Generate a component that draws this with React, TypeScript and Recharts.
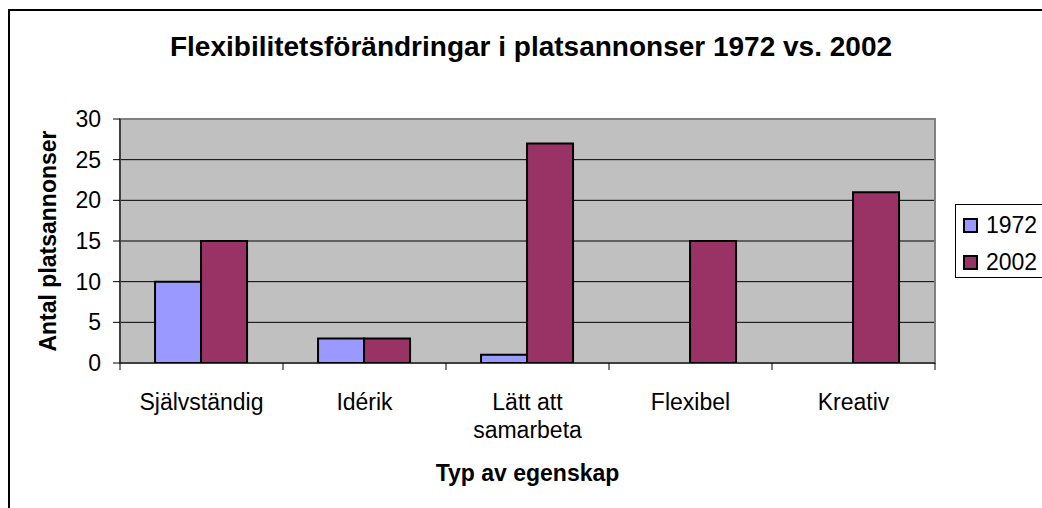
import React from 'react';
import { BarChart, Bar, XAxis, YAxis, CartesianGrid, Legend, ReferenceArea, Label, Text } from 'recharts';

const categories = ['Självständig', 'Idérik', 'Lätt att samarbeta', 'Flexibel', 'Kreativ'];
const values1972 = [10, 3, 1, 0, 0];
const values2002 = [15, 3, 27, 15, 21];
const seriesNames = ['1972', '2002'];
const seriesColors = ['#9999FF', '#993366'];
const yTicks = [0, 5, 10, 15, 20, 25, 30];
const titleText = 'Flexibilitetsförändringar i platsannonser 1972 vs. 2002';
const xTitle = 'Typ av egenskap';
const yTitle = 'Antal platsannonser';

const data = categories.map((c, i) => ({
  name: c,
  [seriesNames[0]]: values1972[i],
  [seriesNames[1]]: values2002[i],
}));

const FONT = '"Liberation Sans", Arial, Helvetica, sans-serif';
const CHART_W = 1100;
const CHART_H = 500;
const MARGIN = { top: 111, right: 173, bottom: 85, left: 0 };
const Y_AXIS_W = 112;
const X_AXIS_H = 60;
const PLOT_W = CHART_W - MARGIN.left - MARGIN.right - Y_AXIS_W;
const BAND = PLOT_W / categories.length;
const TICK = 7;

function XTick(props: any) {
  const { x, y, payload, index } = props;
  const axisY = y - TICK;
  const half = BAND / 2;
  return (
    <g>
      <line x1={x - half} x2={x - half} y1={axisY} y2={axisY + TICK} stroke="#000" strokeWidth={1} />
      {index === categories.length - 1 && (
        <line x1={x + half} x2={x + half} y1={axisY} y2={axisY + TICK} stroke="#000" strokeWidth={1} />
      )}
      <Text
        x={x}
        y={y + 24}
        width={100}
        textAnchor="middle"
        verticalAnchor="start"
        lineHeight={28}
        style={{ fontSize: 23, fontFamily: FONT }}
        fontSize={23}
        fontFamily={FONT}
        fill="#000"
      >
        {payload.value}
      </Text>
    </g>
  );
}

function renderLegend(props: any) {
  const payload = props && props.payload && props.payload.length ? props.payload : null;
  const items = seriesNames.map((n, i) => {
    const p = payload ? payload.find((q: any) => String(q.value) === n) : null;
    return { name: n, color: (p && p.color) || seriesColors[i] };
  });
  return (
    <div
      style={{
        border: '1px solid #000',
        background: '#fff',
        width: 100,
        height: 74,
        boxSizing: 'border-box',
        fontFamily: FONT,
        fontSize: 23,
        paddingTop: 2,
      }}
    >
      {items.map((it) => (
        <div key={it.name} style={{ height: 37, display: 'flex', alignItems: 'center' }}>
          <div
            style={{
              width: 15,
              height: 15,
              boxSizing: 'border-box',
              border: '2px solid #000',
              background: it.color,
              marginLeft: 7,
              marginRight: 8,
            }}
          />
          <span style={{ lineHeight: 1, color: '#000' }}>{it.name}</span>
        </div>
      ))}
    </div>
  );
}

export default function App() {
  return (
    <div
      style={{
        position: 'fixed',
        left: 8,
        top: 8,
        width: 1034,
        height: 500,
        overflow: 'hidden',
        background: '#fff',
      }}
    >
      <div style={{ position: 'relative', width: CHART_W, height: CHART_H }}>
        <div
          style={{
            position: 'absolute',
            left: 0,
            top: 1,
            width: 1200,
            height: 700,
            borderLeft: '2px solid #000',
            borderTop: '2px solid #000',
            boxSizing: 'border-box',
          }}
        />
        <div
          style={{
            position: 'absolute',
            left: 0,
            top: 25,
            width: 1046,
            textAlign: 'center',
            fontFamily: FONT,
            fontWeight: 'bold',
            fontSize: 28,
            lineHeight: '28px',
            color: '#000',
            whiteSpace: 'nowrap',
          }}
        >
          {titleText}
        </div>
        <div style={{ position: 'absolute', left: 0, top: 0 }}>
          <BarChart
            width={CHART_W}
            height={CHART_H}
            data={data}
            margin={MARGIN}
            barCategoryGap="21.5%"
            barGap={0}
          >
            <CartesianGrid
              vertical={false}
              horizontal={true}
              stroke="#000"
              strokeWidth={1}
              fill="#C0C0C0"
              fillOpacity={1}
            />
            <ReferenceArea y1={0} y2={30} fill="none" stroke="#808080" strokeWidth={2} ifOverflow="visible" />
            <XAxis
              dataKey="name"
              height={X_AXIS_H}
              interval={0}
              tickLine={false}
              tickSize={TICK}
              tickMargin={0}
              axisLine={{ stroke: '#000', strokeWidth: 1 }}
              tick={<XTick />}
            >
              <Label
                content={(p: any) => {
                  const vb = p.viewBox || {};
                  return (
                    <text
                      x={vb.x + vb.width / 2}
                      y={vb.y + 118}
                      textAnchor="middle"
                      fontFamily={FONT}
                      fontWeight="bold"
                      fontSize={23}
                      fill="#000"
                    >
                      {xTitle}
                    </text>
                  );
                }}
              />
            </XAxis>
            <YAxis
              width={Y_AXIS_W}
              domain={[0, 30]}
              ticks={yTicks}
              interval={0}
              allowDataOverflow
              tickSize={TICK}
              tickMargin={12}
              axisLine={{ stroke: '#000', strokeWidth: 1 }}
              tickLine={{ stroke: '#000', strokeWidth: 1 }}
              tick={{ fontSize: 23, fill: '#000', fontFamily: FONT }}
            >
              <Label
                content={(p: any) => {
                  const vb = p.viewBox || {};
                  const cx = vb.x + 40;
                  const cy = vb.y + vb.height / 2;
                  return (
                    <text
                      x={cx}
                      y={cy}
                      transform={`rotate(-90, ${cx}, ${cy})`}
                      textAnchor="middle"
                      dominantBaseline="central"
                      fontFamily={FONT}
                      fontWeight="bold"
                      fontSize={23}
                      fill="#000"
                    >
                      {yTitle}
                    </text>
                  );
                }}
              />
            </YAxis>
            <Legend
              layout="vertical"
              align="center"
              verticalAlign="middle"
              wrapperStyle={{ left: 947, top: 196, width: 100, height: 74 }}
              content={renderLegend}
            />
            {seriesNames.map((n, i) => (
              <Bar
                key={n}
                dataKey={n}
                fill={seriesColors[i]}
                stroke="#000"
                strokeWidth={2}
                isAnimationActive={false}
              />
            ))}
          </BarChart>
        </div>
      </div>
    </div>
  );
}
